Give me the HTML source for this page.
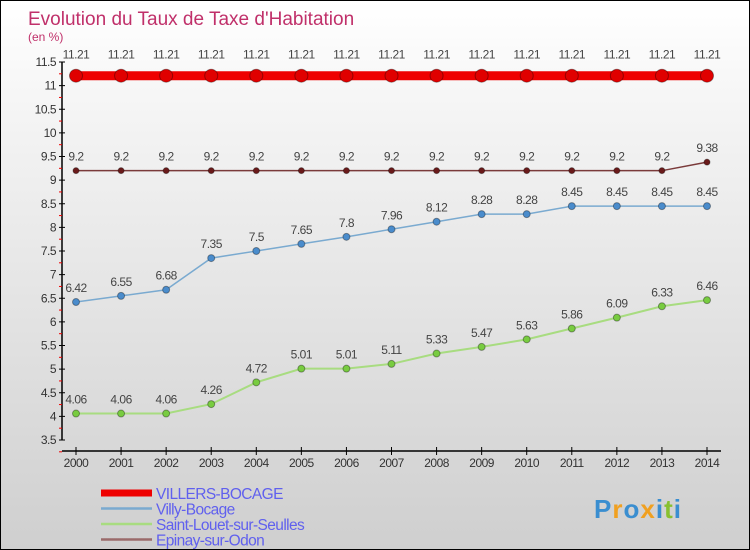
<!DOCTYPE html>
<html><head><meta charset="utf-8"><style>
body{margin:0;}
#c{width:750px;height:550px;position:relative;box-sizing:border-box;border:1px solid #000;background:linear-gradient(#ffffff,#f2f2f2 25%,#cfcfcf);font-family:"Liberation Sans",sans-serif;overflow:hidden}
svg{position:absolute;left:0;top:0}
</style></head><body>
<div id="c">
<svg id="s" width="750" height="550"></svg>
</div>
<script>
const years=[2000,2001,2002,2003,2004,2005,2006,2007,2008,2009,2010,2011,2012,2013,2014];
const villers=[11.21,11.21,11.21,11.21,11.21,11.21,11.21,11.21,11.21,11.21,11.21,11.21,11.21,11.21,11.21];
const villy=[6.42,6.55,6.68,7.35,7.5,7.65,7.8,7.96,8.12,8.28,8.28,8.45,8.45,8.45,8.45];
const stlouet=[4.06,4.06,4.06,4.26,4.72,5.01,5.01,5.11,5.33,5.47,5.63,5.86,6.09,6.33,6.46];
const epinay=[9.2,9.2,9.2,9.2,9.2,9.2,9.2,9.2,9.2,9.2,9.2,9.2,9.2,9.2,9.38];
const yTicks=[3.5,4,4.5,5,5.5,6,6.5,7,7.5,8,8.5,9,9.5,10,10.5,11,11.5];
const NS="http://www.w3.org/2000/svg";
const s=document.getElementById('s');
const X=i=>75+i*(706-75)/(years.length-1);
const Y=v=>61+(11.5-v)*(439-61)/8;
function el(t,a,p){const e=document.createElementNS(NS,t);for(const k in a)e.setAttribute(k,a[k]);(p||s).appendChild(e);return e;}
function tx(x,y,str,o){const e=el('text',Object.assign({x:x,y:y,'font-size':12,fill:'#333','text-anchor':'middle','letter-spacing':'-0.5'},o||{}));e.textContent=str;return e;}
let t=tx(27,24,'Evolution du Taux de Taxe d\'Habitation',{'font-size':19,fill:'#c0306a','text-anchor':'start','letter-spacing':'0'});

t=tx(27,40,'(en %)',{'font-size':12,fill:'#c0306a','text-anchor':'start','letter-spacing':'0'});

let ax=el('line',{x1:61,y1:61,x2:61,y2:439,stroke:'#000','stroke-width':1.5});

yTicks.forEach(v=>{el('line',{x1:58,x2:64,y1:Y(v),y2:Y(v),stroke:'#000'});
 el('line',{x1:58,x2:61,y1:Y(v-0.25),y2:Y(v-0.25),stroke:'#e00'});
 const l=tx(55,Y(v)+4,String(v),{'text-anchor':'end'});
 });
ax=el('line',{x1:61,y1:450,x2:720,y2:450,stroke:'#000','stroke-width':1.5});

years.forEach((y,i)=>{el('line',{x1:X(i),x2:X(i),y1:446,y2:454,stroke:'#000'});
 const l=tx(X(i),466,String(y));
 });
function series(d,color,w,r,dot,name,labOff){
 const g=el('g',{});
 
 el('polyline',{points:d.map((v,i)=>X(i)+','+Y(v)).join(' '),fill:'none',stroke:color,'stroke-width':w},g);
 d.forEach((v,i)=>{const c=el('circle',{cx:X(i),cy:Y(v),r:r,fill:dot,stroke:'rgba(0,0,0,0.35)','stroke-width':1},g);
  
  tx(X(i),Y(v)+labOff,String(v),{fill:'#444'}).parentNode||0;
  g.appendChild(s.lastChild);});
}
series(villers,'#ee0000',9,6.5,'#e00000','villers-bocage-series',-17);
series(epinay,'#7a3a3a',1.5,3,'#6a1a1a','epinay-series',-10);
series(villy,'#7aaad0',1.5,3.5,'#4a8ccc','villy-bocage-series',-10);
series(stlouet,'#a8dc80',2,3.5,'#78cc40','saint-louet-series',-10);
const leg=[['VILLERS-BOCAGE','#ee0000',7],['Villy-Bocage','#7aaad0',2.5],['Saint-Louet-sur-Seulles','#a8dc80',2.5],['Epinay-sur-Odon','#9a6a6a',2.5]];
leg.forEach((L,i)=>{const y=492+i*15.5;const g=el('g',{});
 
 el('line',{x1:100,x2:151,y1:y,y2:y,stroke:L[1],'stroke-width':L[2]},g);
 const tt=tx(155,y+6,L[0],{'text-anchor':'start','font-size':15.5,fill:'#6060ee','letter-spacing':'-0.6'});g.appendChild(tt);});
const lg=tx(637,517,'',{'font-size':26,'font-weight':'bold','letter-spacing':'1'});

[['P','#3a8ed0'],['r','#f0a020'],['o','#3a8ed0'],['x','#f0a020'],['i','#3a8ed0'],['t','#88c030'],['i','#3a8ed0']].forEach(p=>{const ts=el('tspan',{fill:p[1]},lg);ts.textContent=p[0];});
</script>
</body></html>
